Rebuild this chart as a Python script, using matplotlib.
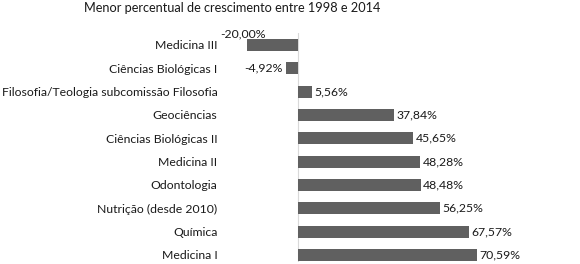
import matplotlib
matplotlib.use("Agg")
import matplotlib.pyplot as plt

title = "Menor percentual de crescimento entre 1998 e 2014"
categories = ["Medicina III", "Ciências Biológicas I", "Filosofia/Teologia subcomissão Filosofia",
              "Geociências", "Ciências Biológicas II", "Medicina II", "Odontologia",
              "Nutrição (desde 2010)", "Química", "Medicina I"]
values = [-20.00, -4.92, 5.56, 37.84, 45.65, 48.28, 48.48, 56.25, 67.57, 70.59]
labels = ["-20,00%", "-4,92%", "5,56%", "37,84%", "45,65%", "48,28%", "48,48%",
          "56,25%", "67,57%", "70,59%"]

plt.rcParams['font.family'] = ['Lato', 'DejaVu Sans']
FS = 8.8
TXT = '#1a1a1a'
W, H = 580, 264
fig = plt.figure(figsize=(W/100, H/100), dpi=100)
left_px, right_px = 247.4, 500.4
top_px, bot_px = 33.3, 262.0
ax = fig.add_axes([left_px/W, 1 - bot_px/H, (right_px-left_px)/W, (bot_px-top_px)/H])
ypos = list(range(len(categories)))
ax.barh(ypos, values, height=0.52, color='#606060')
ax.set_xlim(-20, 80)
ax.set_ylim(9.3, -0.5)
ax.axvline(0, color='#d9d9d9', lw=0.8, zorder=0)
for s in ax.spines.values():
    s.set_visible(False)
ax.set_xticks([])
ax.set_yticks(ypos)
ax.set_yticklabels(categories, fontsize=FS, color=TXT)
ax.tick_params(axis='y', length=0, pad=21.5)
for i, (v, lab) in enumerate(zip(values, labels)):
    if i == 0:
        ax.annotate(lab, (v, i), xytext=(-3, 4), textcoords='offset points',
                    ha='center', va='bottom', fontsize=FS, color=TXT)
    elif v < 0:
        ax.annotate(lab, (v, i), xytext=(-2, 0), textcoords='offset points',
                    ha='right', va='center', fontsize=FS, color=TXT)
    else:
        ax.annotate(lab, (v, i), xytext=(1.8, 0), textcoords='offset points',
                    ha='left', va='center', fontsize=FS, color=TXT)
fig.text(232/W, 1 - 8/H, title, ha='center', va='center', fontsize=9.2, color=TXT)
fig.savefig("out.png", dpi=100)
